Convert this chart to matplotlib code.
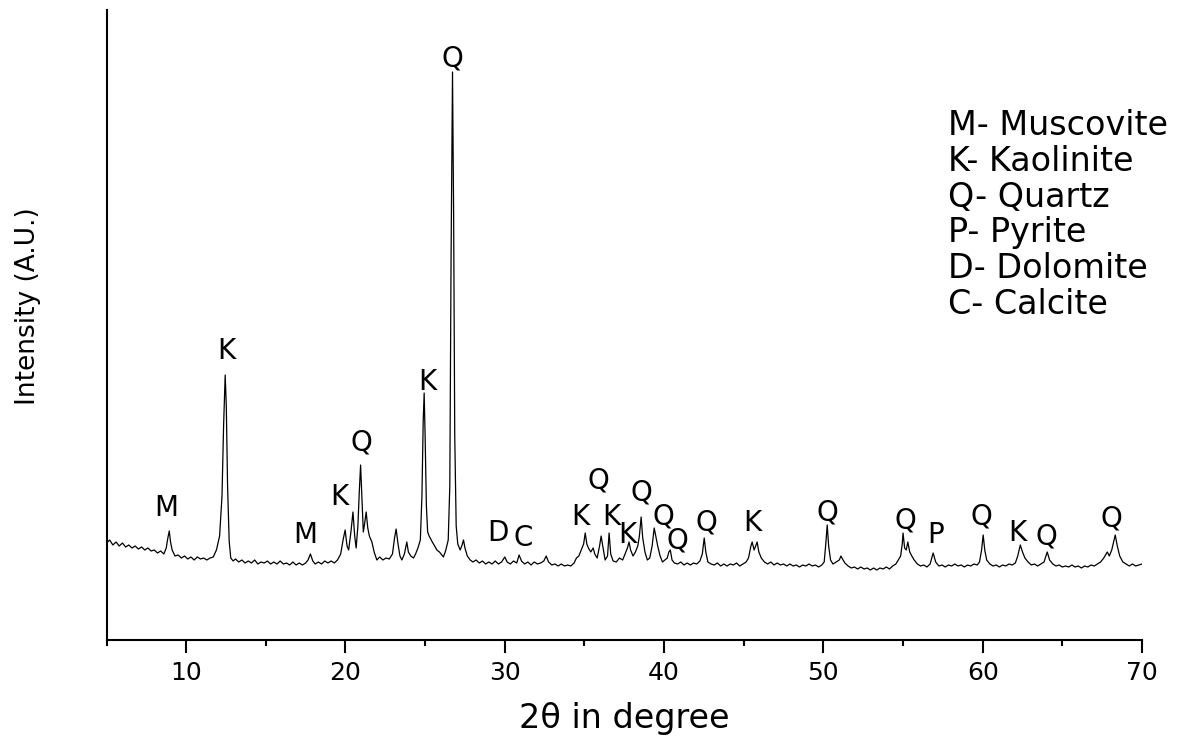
import matplotlib
matplotlib.use("Agg")
import matplotlib.pyplot as plt
from matplotlib.ticker import MultipleLocator

# XRD pattern (2theta in degree, intensity in arbitrary units)
two_theta = [
    5.0, 5.2, 5.4, 5.6, 5.8, 6.0, 6.2, 6.4, 6.6, 6.8, 7.0, 7.2, 7.4, 7.6, 7.8, 8.0, 8.2, 8.4, 8.6,
    8.75, 8.85, 8.94, 9.02, 9.12, 9.3, 9.5, 9.7, 9.9, 10.1, 10.3, 10.5, 10.7, 10.9, 11.1, 11.3,
    11.5, 11.7, 11.9, 12.1, 12.25, 12.35, 12.45, 12.52, 12.6, 12.7, 12.8, 12.95, 13.1, 13.3, 13.5,
    13.7, 13.9, 14.1, 14.3, 14.5, 14.7, 14.9, 15.1, 15.3, 15.5, 15.7, 15.9, 16.1, 16.3, 16.5, 16.7,
    16.9, 17.1, 17.3, 17.5, 17.65, 17.8, 17.95, 18.1, 18.3, 18.5, 18.7, 18.9, 19.1, 19.3, 19.5,
    19.7, 19.85, 19.98, 20.1, 20.2, 20.35, 20.47, 20.58, 20.67, 20.78, 20.87, 20.95, 21.03, 21.12,
    21.2, 21.3, 21.4, 21.5, 21.66, 21.8, 21.97, 22.15, 22.35, 22.55, 22.75, 22.95, 23.08, 23.18,
    23.3, 23.42, 23.54, 23.7, 23.85, 23.95, 24.1, 24.27, 24.4, 24.55, 24.7, 24.8, 24.88, 24.94,
    25.0, 25.08, 25.16, 25.25, 25.32, 25.45, 25.6, 25.74, 25.9, 26.05, 26.15, 26.3, 26.45, 26.55,
    26.63, 26.72, 26.79, 26.86, 26.95, 27.05, 27.2, 27.3, 27.41, 27.5, 27.65, 27.83, 28.0, 28.2,
    28.4, 28.6, 28.8, 29.0, 29.2, 29.4, 29.6, 29.8, 30.0, 30.15, 30.35, 30.55, 30.75, 30.9, 31.05,
    31.25, 31.45, 31.65, 31.85, 32.05, 32.25, 32.45, 32.6, 32.75, 32.95, 33.15, 33.35, 33.55,
    33.75, 33.95, 34.15, 34.35, 34.5, 34.65, 34.8, 34.95, 35.05, 35.15, 35.25, 35.4, 35.55, 35.65,
    35.8, 35.95, 36.05, 36.15, 36.3, 36.45, 36.55, 36.65, 36.8, 37.0, 37.2, 37.4, 37.55, 37.7,
    37.8, 37.9, 38.05, 38.2, 38.35, 38.45, 38.56, 38.66, 38.8, 38.95, 39.1, 39.25, 39.38, 39.48,
    39.6, 39.75, 39.9, 40.05, 40.2, 40.3, 40.39, 40.5, 40.65, 40.85, 41.05, 41.25, 41.45, 41.65,
    41.85, 42.05, 42.25, 42.4, 42.52, 42.62, 42.75, 42.95, 43.15, 43.35, 43.55, 43.75, 43.95,
    44.15, 44.35, 44.55, 44.75, 44.95, 45.15, 45.3, 45.45, 45.53, 45.65, 45.75, 45.84, 45.95,
    46.1, 46.3, 46.5, 46.7, 46.9, 47.1, 47.3, 47.5, 47.7, 47.9, 48.1, 48.3, 48.5, 48.7, 48.9,
    49.1, 49.3, 49.5, 49.7, 49.9, 50.05, 50.15, 50.24, 50.33, 50.45, 50.6, 50.8, 51.0, 51.1, 51.2,
    51.35, 51.55, 51.75, 51.95, 52.15, 52.35, 52.55, 52.75, 52.95, 53.15, 53.35, 53.55, 53.75,
    53.95, 54.15, 54.35, 54.55, 54.7, 54.85, 54.95, 55.0, 55.1, 55.2, 55.3, 55.42, 55.55, 55.7,
    55.9, 56.1, 56.3, 56.5, 56.7, 56.89, 57.05, 57.25, 57.45, 57.65, 57.85, 58.05, 58.25, 58.45,
    58.65, 58.85, 59.05, 59.25, 59.45, 59.65, 59.8, 59.93, 60.03, 60.13, 60.25, 60.45, 60.65,
    60.85, 61.05, 61.25, 61.45, 61.65, 61.85, 62.05, 62.2, 62.36, 62.5, 62.65, 62.85, 63.05,
    63.25, 63.45, 63.65, 63.85, 64.05, 64.2, 64.4, 64.6, 64.8, 65.0, 65.2, 65.4, 65.6, 65.8, 66.0,
    66.2, 66.4, 66.6, 66.8, 67.0, 67.2, 67.4, 67.6, 67.82, 67.95, 68.1, 68.22, 68.32, 68.45,
    68.6, 68.8, 69.0, 69.2, 69.4, 69.6, 69.8, 70.0,
]
intensity = [
    93, 96, 91, 94, 90, 93, 89, 91, 88, 90, 87, 89, 86, 88, 85, 86, 83, 85, 82,
    88, 98, 105, 94, 86, 80, 81, 78, 80, 77, 79, 76, 79, 77, 78, 76,
    78, 79, 86, 100, 140, 210, 261, 230, 150, 95, 78, 75, 77, 74, 76,
    73, 75, 73, 76, 72, 74, 73, 75, 72, 74, 72, 75, 72, 73, 71, 74,
    71, 73, 71, 73, 76, 82, 75, 72, 74, 72, 75, 73, 75, 73, 76,
    82, 96, 106, 90, 86, 105, 124, 100, 88, 110, 145, 171, 140, 104,
    112, 124, 108, 100, 94, 84, 76, 79, 76, 78, 77, 82, 98, 107,
    92, 80, 76, 82, 94, 84, 80, 78, 82, 88, 96, 140, 215, 243,
    200, 130, 104, 100, 98, 94, 90, 86, 84, 81, 79, 86, 96, 150,
    380, 564, 420, 200, 110, 92, 86, 90, 96, 88, 80, 76, 74, 76,
    73, 75, 72, 74, 72, 75, 72, 74, 79, 74, 72, 75, 73, 81, 75,
    72, 74, 71, 74, 72, 73, 75, 80, 74, 71, 72, 70, 72,
    70, 71, 70, 73, 78, 80, 86, 92, 103, 92, 88, 84, 88, 82,
    78, 90, 100, 90, 76, 80, 103, 82, 75, 74, 78, 76, 82, 88,
    94, 86, 80, 84, 90, 100, 119, 98, 84, 76, 78, 90, 108, 100,
    90, 80, 74, 76, 78, 84, 86, 76, 73, 72, 74, 71, 73, 71,
    73, 72, 75, 82, 98, 84, 74, 72, 71, 73, 70, 72, 70,
    72, 71, 73, 70, 72, 74, 78, 90, 94, 86, 90, 94, 84,
    78, 74, 72, 74, 71, 73, 71, 72, 70, 72, 70, 71, 69, 71, 70,
    72, 70, 71, 69, 71, 74, 92, 111, 90, 76, 72, 74, 76, 80, 77,
    73, 70, 68, 69, 67, 69, 67, 68, 66, 68, 66, 68, 67,
    69, 67, 70, 72, 76, 80, 92, 103, 88, 86, 94, 84, 80, 76,
    72, 70, 71, 69, 72, 83, 74, 70, 71, 69, 71, 70, 72, 70,
    71, 69, 71, 70, 72, 71, 74, 86, 101, 86, 76, 72, 70,
    71, 69, 71, 70, 72, 71, 73, 80, 91, 84, 78, 74, 71,
    72, 70, 72, 74, 84, 76, 72, 70, 71, 69, 70, 69, 71, 69, 70,
    68, 70, 69, 71, 70, 72, 74, 78, 84, 80, 86, 94, 101, 90,
    80, 74, 72, 70, 72, 70, 71, 72,
]

# phase labels above the peaks
peak_labels = ["M", "K", "M", "K", "Q", "K", "Q", "D", "C", "K", "Q", "K", "K",
               "Q", "Q", "Q", "Q", "K", "Q", "Q", "P", "Q", "K", "Q", "Q"]
label_theta = [8.75, 12.51, 17.47, 19.61, 20.99, 25.13, 26.70, 29.59, 31.16, 34.74,
               35.87, 36.69, 37.69, 38.57, 39.95, 40.83, 42.65, 45.53, 50.24, 55.14,
               57.02, 59.91, 62.17, 63.99, 68.07]
label_height = [128, 285, 101, 139, 193, 254, 578, 103, 98, 119, 156, 119, 101,
                143, 119, 96, 114, 113, 123, 116, 101, 119, 103, 99, 118]

phases = ["M- Muscovite", "K- Kaolinite", "Q- Quartz", "P- Pyrite", "D- Dolomite", "C- Calcite"]

fig = plt.figure(figsize=(11.95, 7.36), dpi=100)
ax = fig.add_axes([106.5 / 1195, 1 - 640 / 736, 1035.5 / 1195, 630 / 736])

ax.plot(two_theta, intensity, color="black", lw=0.9)

for lab, x, y in zip(peak_labels, label_theta, label_height):
    ax.text(x, y, lab, ha="center", va="center", fontsize=20)

ax.text(0.8126, 0.6746, "\n".join(phases), transform=ax.transAxes,
        ha="left", va="center", fontsize=24, linespacing=1.11)

ax.set_xlim(5, 70)
ax.set_ylim(-4, 626)
ax.spines["top"].set_visible(False)
ax.spines["right"].set_visible(False)
ax.spines["left"].set_linewidth(1.5)
ax.spines["bottom"].set_linewidth(1.5)
ax.set_yticks([])
ax.xaxis.set_major_locator(MultipleLocator(10))
ax.xaxis.set_minor_locator(MultipleLocator(5))
ax.tick_params(axis="x", which="major", length=9.4, width=1.5, labelsize=18, pad=6)
ax.tick_params(axis="x", which="minor", length=4.3, width=1.5)

ax.set_xlabel("2θ in degree", fontsize=24, labelpad=12)
ylab = ax.set_ylabel("Intensity (A.U.)", fontsize=19)
ylab.set_va("center")
ax.yaxis.set_label_coords(-0.0756, 0.53)

fig.savefig("out.png", dpi=100)
